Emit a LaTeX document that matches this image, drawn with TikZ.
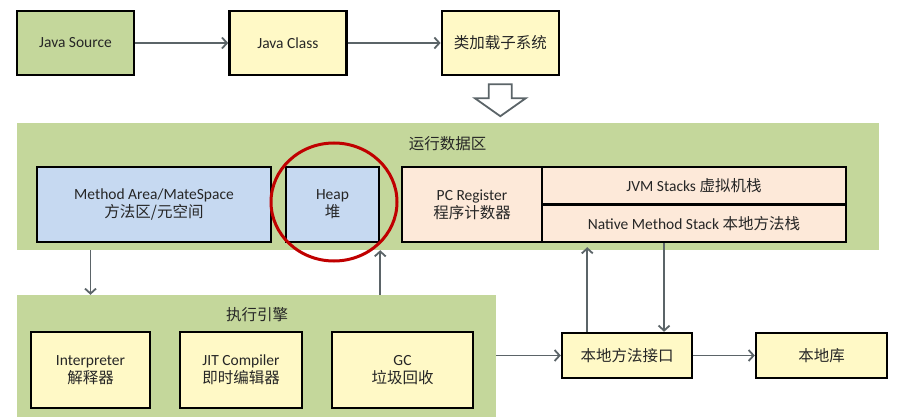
\documentclass[tikz,border=0pt]{standalone}
\usepackage{fontspec}
\setmainfont{Carlito}
\newfontfamily\cjk{Noto Sans CJK SC}
\newcommand{\zh}[1]{{\cjk #1}}
\usetikzlibrary{arrows.meta,calc,positioning}
\definecolor{Ink}{HTML}{262626}
\definecolor{Olive}{HTML}{C4D79B}
\definecolor{Cream}{HTML}{FFF9C6}
\definecolor{Sky}{HTML}{C6D9F1}
\definecolor{Peach}{HTML}{FDE9D9}
\definecolor{Slate}{HTML}{5B6468}
\definecolor{Alarm}{HTML}{C00000}
\tikzset{
  panel/.style={fill=Olive, inner sep=0pt},
  box/.style={
    draw=black, line width=2.4pt, fill=Cream, text=Ink,
    align=center, inner sep=0pt
  },
  areabox/.style={box, fill=Sky, minimum height=75pt},
  threadbox/.style={box, fill=Peach},
  enginebox/.style={box, minimum height=76pt},
  title/.style={text=Ink, inner sep=0pt},
  flow/.style={-{Straight Barb[length=5pt,width=11pt,line width=1.8pt]}, line width=1.8pt, draw=Slate},
  bigarrow/.style={draw=Slate, line width=1.8pt, fill=white, line join=miter}
}

\begin{document}
\begin{tikzpicture}[x=1pt,y=-1pt,node distance=93pt,
    font=\fontsize{15.5}{18}\selectfont]
  \useasboundingbox (0,0) rectangle (898,420);
  % class loading
  \node[box,fill=Olive,minimum width=117pt,minimum height=64pt] (src) at (75.5,43) {Java Source};
  \node[box,minimum width=117pt,minimum height=64pt,right=of src] (cls) {Java Class};
  \node[box,minimum width=117pt,minimum height=64pt,right=of cls] (loader) {\zh{类加载子系统}};
  \draw[flow] (src)--(cls);
  \draw[flow] (cls)--(loader);
  \draw[bigarrow] ($(loader.south)+(-11.5,8)$) -- ++(23,0) -- ++(0,14) -- ++(14,0)
    -- ++(-25.5,18) -- ++(-25.5,-18) -- ++(14,0) -- cycle;
  % runtime data area
  \node[panel,minimum width=862pt,minimum height=127pt] (rda) at (448,186.5) {};
  \node[title] (rdatitle) at (447.5,144) {\zh{运行数据区}};
  \node[areabox,minimum width=234pt] (method) at (154,204.5) {Method Area/MateSpace\\\zh{方法区/元空间}};
  \node[areabox,minimum width=93pt] (heap) at (332.5,204.5) {Heap\\\zh{堆}};
  \node[threadbox,minimum width=140pt,minimum height=75pt] (pc) at (472,204.5) {PC Register\\\zh{程序计数器}};
  \node[threadbox,minimum width=304pt,minimum height=37.5pt] (jvm) at (694,185.75) {JVM Stacks \zh{虚拟机栈}};
  \node[threadbox,minimum width=304pt,minimum height=37.5pt] (native) at (694,223.25) {Native Method Stack \zh{本地方法栈}};
  \draw[Alarm,line width=3pt] (334,202) ellipse [x radius=63pt,y radius=59pt];
  % execution engine
  \node[panel,minimum width=479pt,minimum height=122pt] (exec) at (256.5,356) {};
  \node[title] (exectitle) at (257,315) {\zh{执行引擎}};
  \node[enginebox,minimum width=119pt] (interp) at (90.5,370) {Interpreter\\\zh{解释器}};
  \node[enginebox,minimum width=122pt] (jit) at (241,370) {JIT Compiler\\\zh{即时编辑器}};
  \node[enginebox,minimum width=141pt] (gc) at (402.5,370) {GC\\\zh{垃圾回收}};
  % native side
  \node[box,minimum width=130pt,minimum height=45pt] (jni) at (627,355.5) {\zh{本地方法接口}};
  \node[box,minimum width=131pt,minimum height=45pt] (lib) at (821.5,355.5) {\zh{本地库}};
  \coordinate (jniup) at ($(jni.north west)!0.2!(jni.north east)$);
  \coordinate (jnidown) at ($(jni.north west)!0.78!(jni.north east)$);
  \draw[flow] (rda.south -| interp) -- (exec.north -| interp);
  \draw[flow] (exec.north -| heap.east) -- (rda.south -| heap.east);
  \draw[flow] (exec.east |- jni) -- (jni);
  \draw[flow] (jni) -- (lib);
  \draw[flow] (jniup) -- ($(native.south -| jniup)+(0,4)$);
  \draw[flow] (native.south -| jnidown) -- (jnidown);
\end{tikzpicture}
\end{document}
